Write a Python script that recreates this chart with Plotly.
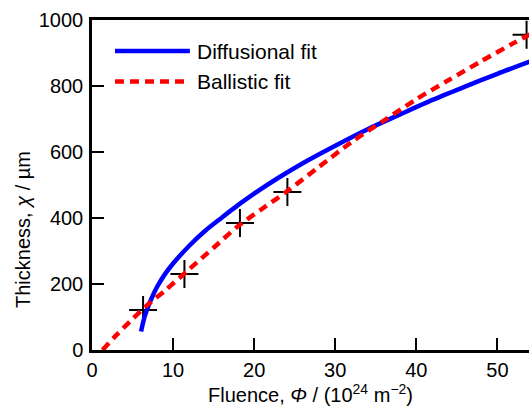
import plotly.graph_objects as go

# Measured data (crosses)
meas_phi = [6.3, 11.4, 18.25, 24.1, 53.6]
meas_chi = [121, 230, 385, 479, 955]

# Diffusional fit
diff_phi = [6.05, 6.5, 7.2, 8, 9, 10, 12, 14, 16, 18, 20, 23, 26, 30, 34, 38, 42, 46, 50, 54]
diff_chi = [56, 102, 148, 190, 230, 262, 316, 362, 401, 439, 474, 522, 566, 619, 669, 714, 758, 798, 837, 874]

# Ballistic fit
ball_phi = [1.3, 3, 5, 7, 9, 12, 15, 18, 21, 24, 28, 32, 36, 40, 44, 48, 52, 54]
ball_chi = [0, 45, 94, 140, 180, 245, 310, 375, 428, 480, 555, 630, 695, 760, 818, 875, 930, 956]

legend_names = ["Diffusional fit", "Ballistic fit"]

FONT = "Liberation Sans, Arial, sans-serif"

fig = go.Figure()
fig.add_trace(go.Scatter(x=meas_phi, y=meas_chi, mode="markers", name="Data",
                         marker=dict(symbol="cross-thin", size=20, line=dict(color="black", width=2)),
                         showlegend=False, cliponaxis=False))
fig.add_trace(go.Scatter(x=diff_phi, y=diff_chi, mode="lines", name=legend_names[0],
                         line=dict(color="#0000ff", width=4.5, shape="spline", smoothing=0.8),
                         showlegend=False))
fig.add_trace(go.Scatter(x=ball_phi, y=ball_chi, mode="lines", name=legend_names[1],
                         line=dict(color="#ff0000", width=4.5, dash="9px,6px", shape="spline", smoothing=0.8),
                         showlegend=False))

# Manual legend
fig.add_shape(type="line", xref="paper", yref="paper", x0=0.0526, x1=0.224, y0=0.906, y1=0.906,
              line=dict(color="#0000ff", width=4.5))
fig.add_shape(type="line", xref="paper", yref="paper", x0=0.0526, x1=0.224, y0=0.814, y1=0.814,
              line=dict(color="#ff0000", width=4.5, dash="9px,6px"))
fig.add_annotation(xref="paper", yref="paper", x=0.236, y=0.906, text=legend_names[0],
                   showarrow=False, xanchor="left", yanchor="middle", font=dict(size=21, color="black"))
fig.add_annotation(xref="paper", yref="paper", x=0.236, y=0.814, text=legend_names[1],
                   showarrow=False, xanchor="left", yanchor="middle", font=dict(size=21, color="black"))

# Y title as annotation (positioned like reference)
fig.add_annotation(xref="paper", yref="paper", x=(23 - 92) / 437, y=(350 - 230) / 330,
                   text="Thickness, <i>χ</i> / µm", textangle=-90, showarrow=False,
                   xanchor="center", yanchor="middle", font=dict(size=20, color="black"))

fig.update_layout(
    width=529, height=406,
    margin=dict(l=92, r=0, t=20, b=56),
    paper_bgcolor="white", plot_bgcolor="white",
    font=dict(family=FONT, size=20, color="black"),
    xaxis=dict(range=[0, 53.9], tickvals=[0, 10, 20, 30, 40, 50], ticks="inside", ticklen=12,
               tickwidth=2, tickcolor="black", showline=True, linewidth=2.5, linecolor="black",
               mirror=True, showgrid=False, zeroline=False, automargin=False,
               title=dict(text="Fluence, <i>Φ</i> / (10<sup>24</sup> m<sup>−2</sup>)", standoff=2,
                          font=dict(size=20))),
    yaxis=dict(range=[0, 1000], tickvals=[0, 200, 400, 600, 800, 1000], ticks="inside", ticklen=12,
               tickwidth=2, tickcolor="black", showline=True, linewidth=2.5, linecolor="black",
               showgrid=False, zeroline=False, ticklabelstandoff=2, automargin=False),
)

fig.write_html("out.html", config={"displayModeBar": False},
               post_script="document.body.style.margin='0';document.body.style.overflow='hidden';")
